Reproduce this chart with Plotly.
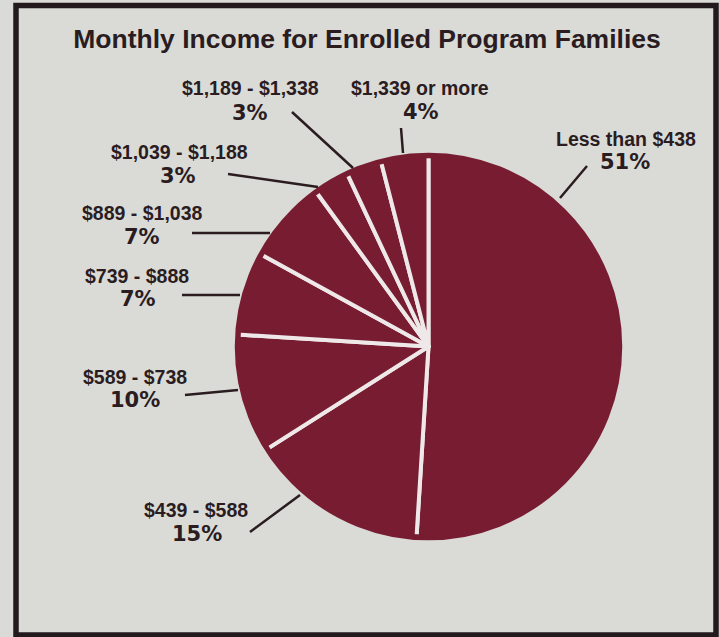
import plotly.graph_objects as go

# Income brackets (clockwise from 12 o'clock) and share of enrolled families
categories = [
    "Less than $438",
    "$439 - $588",
    "$589 - $738",
    "$739 - $888",
    "$889 - $1,038",
    "$1,039 - $1,188",
    "$1,189 - $1,338",
    "$1,339 or more",
]
shares = [51, 15, 10, 7, 7, 3, 3, 4]
pct_labels = [f"{v}%" for v in shares]

W, H = 719, 637
BG = "#dadbd7"
MAROON = "#781c31"
INK = "#2a1c1f"

# Label placement (pixel centers of the bracket line and the percent line)
label_xy = [
    (626, 139), (196, 510), (135, 377), (137, 276),
    (142, 213), (179, 152), (250, 88), (420, 88),
]
pct_xy = [
    (625, 162), (197, 534), (135, 400), (138, 299),
    (142, 237), (178, 176), (250, 113), (421, 112),
]
# Leader lines: (x0, y0, x1, y1) in pixels
leaders = [
    (587, 166, 560, 198),
    (250, 532, 300, 495),
    (185, 395, 238, 390),
    (182, 295, 240, 295),
    (192, 233, 270, 233),
    (228, 174, 318, 187),
    (292, 112, 353, 168),
    (401, 128, 403, 153),
]


def px(x):
    return x / W


def py(y):
    return 1 - y / H


cx, cy, r = 428.5, 346.5, 191
rim = 5.5

fig = go.Figure(
    go.Pie(
        labels=categories,
        values=shares,
        sort=False,
        direction="clockwise",
        rotation=0,
        textinfo="none",
        hoverinfo="label+percent",
        marker=dict(colors=[MAROON] * len(shares),
                    line=dict(color="#eee9e8", width=4)),
        domain=dict(x=[px(cx - r), px(cx + r)], y=[py(cy + r), py(cy - r)]),
        showlegend=False,
    )
)

shapes = [
    dict(type="rect", xref="paper", yref="paper",
         x0=px(16), x1=px(716), y0=py(635), y1=py(5.5),
         line=dict(color="#221a1c", width=5.5), fillcolor=BG, layer="below"),
    # maroon rim so the slice separators don't outline the whole disc
    dict(type="circle", xref="paper", yref="paper",
         x0=px(cx - r), x1=px(cx + r), y0=py(cy + r), y1=py(cy - r),
         line=dict(color=MAROON, width=rim), layer="above"),
]
for x0, y0, x1, y1 in leaders:
    shapes.append(dict(type="line", xref="paper", yref="paper",
                       x0=px(x0), y0=py(y0), x1=px(x1), y1=py(y1),
                       line=dict(color=INK, width=2.5), layer="above"))

annotations = []
for name, (lx, ly), pct, (qx, qy) in zip(categories, label_xy, pct_labels, pct_xy):
    annotations.append(dict(
        text=name, x=px(lx), y=py(ly), xref="paper", yref="paper",
        xanchor="center", yanchor="middle", showarrow=False,
        font=dict(family="Liberation Sans, Arial, sans-serif", size=19.5,
                  color=INK, weight="bold"),
    ))
    annotations.append(dict(
        text=pct, x=px(qx), y=py(qy), xref="paper", yref="paper",
        xanchor="center", yanchor="middle", showarrow=False,
        font=dict(family="DejaVu Sans, sans-serif", size=21,
                  color=INK, weight="bold"),
    ))

fig.update_layout(
    width=W, height=H,
    margin=dict(l=0, r=0, t=0, b=0),
    paper_bgcolor=BG, plot_bgcolor=BG,
    title=dict(text="Monthly Income for Enrolled Program Families",
               x=px(367), y=py(39), xanchor="center", yanchor="middle",
               font=dict(family="Liberation Sans, Arial, sans-serif", size=26.5,
                         color=INK, weight="bold")),
    shapes=shapes,
    annotations=annotations,
)

fig.write_html("out.html")
